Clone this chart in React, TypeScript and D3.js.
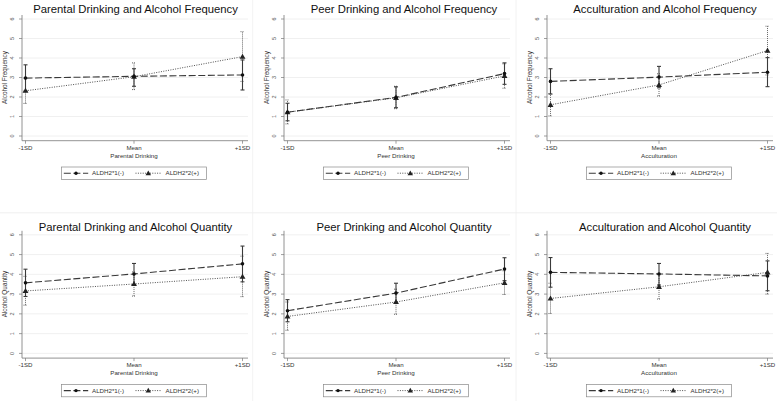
import React from "react";
import * as d3 from "d3";

const categories = ["-1SD", "Mean", "+1SD"];
const seriesNames = ["ALDH2*1(-)", "ALDH2*2(+)"];
const panelTitles = [
  "Parental Drinking and Alcohol Frequency",
  "Peer Drinking and Alcohol Frequency",
  "Acculturation and Alcohol Frequency",
  "Parental Drinking and Alcohol Quantity",
  "Peer Drinking and Alcohol Quantity",
  "Acculturation and Alcohol Quantity",
];
const xTitles = ["Parental Drinking", "Peer Drinking", "Acculturation", "Parental Drinking", "Peer Drinking", "Acculturation"];
const yTitles = ["Alcohol Frequency", "Alcohol Frequency", "Alcohol Frequency", "Alcohol Quantity", "Alcohol Quantity", "Alcohol Quantity"];
const yTicks = [0, 1, 2, 3, 4, 5, 6];

const s1Mean = [
  [2.97, 3.06, 3.13],
  [1.22, 1.98, 3.2],
  [2.8, 3.02, 3.27],
  [3.57, 4.02, 4.53],
  [2.16, 3.05, 4.27],
  [4.1, 4.02, 3.92],
];
const s1Lo = [
  [2.3, 2.55, 2.36],
  [0.78, 1.45, 2.65],
  [2.15, 2.47, 2.53],
  [2.88, 3.47, 3.62],
  [1.6, 2.55, 3.68],
  [3.35, 3.46, 3.17],
];
const s1Hi = [
  [3.65, 3.45, 3.9],
  [1.68, 2.52, 3.75],
  [3.45, 3.57, 4.02],
  [4.26, 4.55, 5.43],
  [2.72, 3.55, 4.84],
  [4.85, 4.55, 4.68],
];
const s2Mean = [
  [2.32, 3.04, 4.07],
  [1.22, 1.96, 3.08],
  [1.6, 2.62, 4.38],
  [3.16, 3.51, 3.88],
  [1.87, 2.6, 3.57],
  [2.78, 3.37, 4.1],
];
const s2Lo = [
  [1.67, 2.38, 2.8],
  [0.62, 1.4, 2.45],
  [1.03, 2.05, 3.13],
  [2.44, 2.9, 2.87],
  [1.17, 1.98, 2.98],
  [2.02, 2.75, 3.0],
];
const s2Hi = [
  [2.97, 3.75, 5.35],
  [1.85, 2.55, 3.7],
  [2.18, 3.19, 5.63],
  [3.9, 4.12, 4.92],
  [2.6, 3.25, 4.18],
  [3.55, 4.0, 5.06],
];

const FONT = "'Liberation Sans', Arial, sans-serif";
const colX0 = [0, 262, 525];
const titleDx = [135.5, 142, 140];
const rowRange = [
  [136, 19],
  [353.4, 234.8],
];
const titleBase = [12.8, 230.6];

const S1 = { line: "#383838", dash: "7,2.6", width: 1.1 };
const S2 = { line: "#505050", dash: "1,1.4", width: 1 };

function Triangle({ x, y, s, fill }) {
  const p = d3.symbol().type(d3.symbolTriangle).size(s)();
  return <path d={p} transform={`translate(${x},${y + 0.4})`} fill={fill} />;
}

function Panel({ idx }) {
  const col = idx % 3;
  const row = Math.floor(idx / 3);
  const x0 = colX0[col];
  const x = d3.scalePoint().domain(categories).range([x0 + 25.5, x0 + 242.5]);
  const y = d3.scaleLinear().domain([0, 6]).range(rowRange[row]);
  const axisX = x0 + 22;
  const right = x0 + 248;
  const y0 = y(0);
  const bottom = y0 + 4.7;
  const top = y(6) - 4;
  const cx = (x(categories[0]) + x(categories[2])) / 2;
  const line = d3
    .line()
    .x((d, i) => x(categories[i]))
    .y((d) => y(d));

  const bars = (lo, hi, col2, dash, w) =>
    categories.map((c, i) => {
      const xx = x(c);
      return (
        <g key={c} stroke={col2} strokeWidth={w} strokeDasharray={dash}>
          <line x1={xx} x2={xx} y1={y(lo[idx][i])} y2={y(hi[idx][i])} />
          <line x1={xx - 2} x2={xx + 2} y1={y(lo[idx][i])} y2={y(lo[idx][i])} strokeDasharray={null} />
          <line x1={xx - 2} x2={xx + 2} y1={y(hi[idx][i])} y2={y(hi[idx][i])} strokeDasharray={null} />
        </g>
      );
    });

  const legL = cx - 72.5;
  const legY = y0 + 31;
  const legMid = legY + 6.2;

  return (
    <g>
      {yTicks.map((t) => (
        <line key={t} x1={axisX} x2={right} y1={y(t)} y2={y(t)} stroke="#ececec" strokeWidth={0.8} />
      ))}
      <line x1={axisX} x2={axisX} y1={top} y2={bottom} stroke="#777" strokeWidth={0.8} />
      <line x1={axisX} x2={right} y1={bottom} y2={bottom} stroke="#777" strokeWidth={0.8} />
      {yTicks.map((t) => (
        <g key={t}>
          <line x1={axisX - 3} x2={axisX} y1={y(t)} y2={y(t)} stroke="#777" strokeWidth={0.7} />
          <text
            transform={`translate(${x0 + 13.5},${y(t)}) rotate(-90)`}
            textAnchor="middle"
            fontSize={5.5}
            fill="#555"
            fontFamily={FONT}
          >
            {t}
          </text>
        </g>
      ))}
      {categories.map((c) => (
        <g key={c}>
          <line x1={x(c)} x2={x(c)} y1={bottom} y2={bottom + 3} stroke="#777" strokeWidth={0.7} />
          <text x={x(c)} y={y0 + 13.6} textAnchor="middle" fontSize={6.1} fill="#333" fontFamily={FONT}>
            {c}
          </text>
        </g>
      ))}
      <text x={cx} y={y0 + 22} textAnchor="middle" fontSize={6.2} fill="#333" fontFamily={FONT}>
        {xTitles[idx]}
      </text>
      <text
        transform={`translate(${x0 + 6.6},${y(3)}) rotate(-90)`}
        textAnchor="middle"
        fontSize={6.4}
        fill="#333"
        fontFamily={FONT}
      >
        {yTitles[idx]}
      </text>
      <text x={x0 + titleDx[col]} y={titleBase[row]} textAnchor="middle" fontSize={11.3} fill="#111" fontFamily={FONT}>
        {panelTitles[idx]}
      </text>

      {bars(s2Lo, s2Hi, "#666", "1,1", 1)}
      {bars(s1Lo, s1Hi, "#3a3a3a", null, 1.1)}

      <path d={line(s2Mean[idx])} fill="none" stroke={S2.line} strokeWidth={S2.width} strokeDasharray={S2.dash} />
      <path d={line(s1Mean[idx])} fill="none" stroke={S1.line} strokeWidth={S1.width} strokeDasharray={S1.dash} />

      {categories.map((c, i) => (
        <Triangle key={"t" + c} x={x(c)} y={y(s2Mean[idx][i])} s={15} fill="#222" />
      ))}
      {categories.map((c, i) => (
        <circle key={"c" + c} cx={x(c)} cy={y(s1Mean[idx][i])} r={1.8} fill="#111" />
      ))}

      <rect x={legL} y={legY} width={145} height={12.4} fill="#fff" stroke="#8a8a8a" strokeWidth={0.7} />
      <line x1={legL + 2.3} x2={legL + 26.7} y1={legMid} y2={legMid} stroke={S1.line} strokeWidth={S1.width} strokeDasharray="7,2.6" />
      <circle cx={legL + 14.5} cy={legMid} r={1.7} fill="#111" />
      <text x={legL + 30.5} y={legMid + 2.1} fontSize={6.2} fill="#333" fontFamily={FONT}>
        {seriesNames[0]}
      </text>
      <line x1={legL + 74} x2={legL + 100} y1={legMid} y2={legMid} stroke={S2.line} strokeWidth={S2.width} strokeDasharray={S2.dash} />
      <Triangle x={legL + 86.8} y={legMid} s={13} fill="#222" />
      <text x={legL + 104} y={legMid + 2.1} fontSize={6.2} fill="#333" fontFamily={FONT}>
        {seriesNames[1]}
      </text>
    </g>
  );
}

export default function App() {
  return (
    <svg
      width={777}
      height={401}
      style={{ position: "absolute", left: 0, top: 0, background: "#fff" }}
    >
      <rect width={777} height={401} fill="#fff" />
      <line x1={0} x2={777} y1={212.8} y2={212.8} stroke="#ebebeb" strokeWidth={0.8} />
      <line x1={252.7} x2={252.7} y1={0} y2={401} stroke="#efefef" strokeWidth={0.8} />
      <line x1={516} x2={516} y1={0} y2={401} stroke="#efefef" strokeWidth={0.8} />
      {panelTitles.map((t, i) => (
        <Panel key={t} idx={i} />
      ))}
    </svg>
  );
}
